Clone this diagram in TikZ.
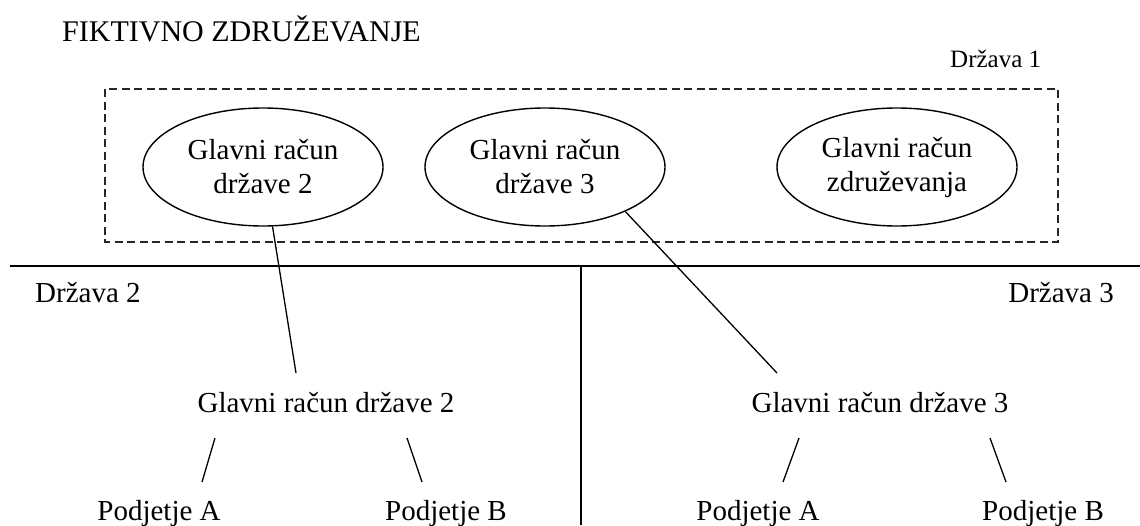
\documentclass[tikz,border=0pt]{standalone}
\usepackage{fontspec}
\setmainfont{Liberation Serif}
\begin{document}
\begin{tikzpicture}[x=1pt,y=-1pt,
  txt/.style={inner sep=0pt,font=\fontsize{29}{34}\selectfont},
  acct/.style={ellipse,draw,line width=1.4pt,minimum width=240pt,minimum height=118pt,
    inner sep=0pt,align=center,font=\fontsize{29}{34}\selectfont},
  link/.style={line width=1.3pt},
  border/.style={line width=2pt},
  zone/.style={draw=black!85,line width=1.3pt,dash pattern=on 8pt off 4.5pt}]
\useasboundingbox (0,0) rectangle (1140,525);

% heading and the outer state
\node[txt,anchor=base west,font=\fontsize{30}{34}\selectfont] (title) at (62,41) {FIKTIVNO ZDRUŽEVANJE};
\node[txt,anchor=base west,font=\fontsize{25}{30}\selectfont] (d1) at (950,67) {Država 1};
\draw[zone] (105,89) rectangle (1058,242);

% accounts held in state 1
\usetikzlibrary{shapes.geometric}
\node[acct] (e2) at (263,167) {Glavni račun\\države 2};
\node[acct] (e3) at (545,167) {Glavni račun\\države 3};
\node[acct] (ez) at (897,167) {Glavni račun\\združevanja};

% borders between the states
\coordinate (hl) at (10,266);
\coordinate (hr) at (1140,266);
\coordinate (vt) at (581,266);
\coordinate (vb) at (581,525);
\draw[border] (hl) -- (hr);
\draw[link] (vt) -- (vb);

\node[txt,anchor=base west] (d2) at (35,302) {Država 2};
\node[txt,anchor=base east] (d3) at (1114,302) {Država 3};

% national accounts
\node[txt,anchor=base] (g2) at (326,412) {Glavni račun države 2};
\node[txt,anchor=base] (g3) at (880,412) {Glavni račun države 3};

% subsidiaries
\node[txt,anchor=base] (a2) at (159,520) {Podjetje A};
\node[txt,anchor=base] (b2) at (446,520) {Podjetje B};
\node[txt,anchor=base] (a3) at (758,520) {Podjetje A};
\node[txt,anchor=base] (b3) at (1043,520) {Podjetje B};

% links from the pool to the national accounts
\coordinate (g2top) at (296,373);
\coordinate (g3top) at (777,373);
\draw[link] (e2) -- (g2top);
\draw[link] (e3.-29) -- (g3top);

% branches to the subsidiaries
\coordinate (l2a) at (215,438); \coordinate (l2b) at (202,482);
\coordinate (r2a) at (407,438); \coordinate (r2b) at (422,482);
\coordinate (l3a) at (799,438); \coordinate (l3b) at (783,482);
\coordinate (r3a) at (990,438); \coordinate (r3b) at (1006,482);
\draw[link] (l2a) -- (l2b);
\draw[link] (r2a) -- (r2b);
\draw[link] (l3a) -- (l3b);
\draw[link] (r3a) -- (r3b);
\end{tikzpicture}
\end{document}
